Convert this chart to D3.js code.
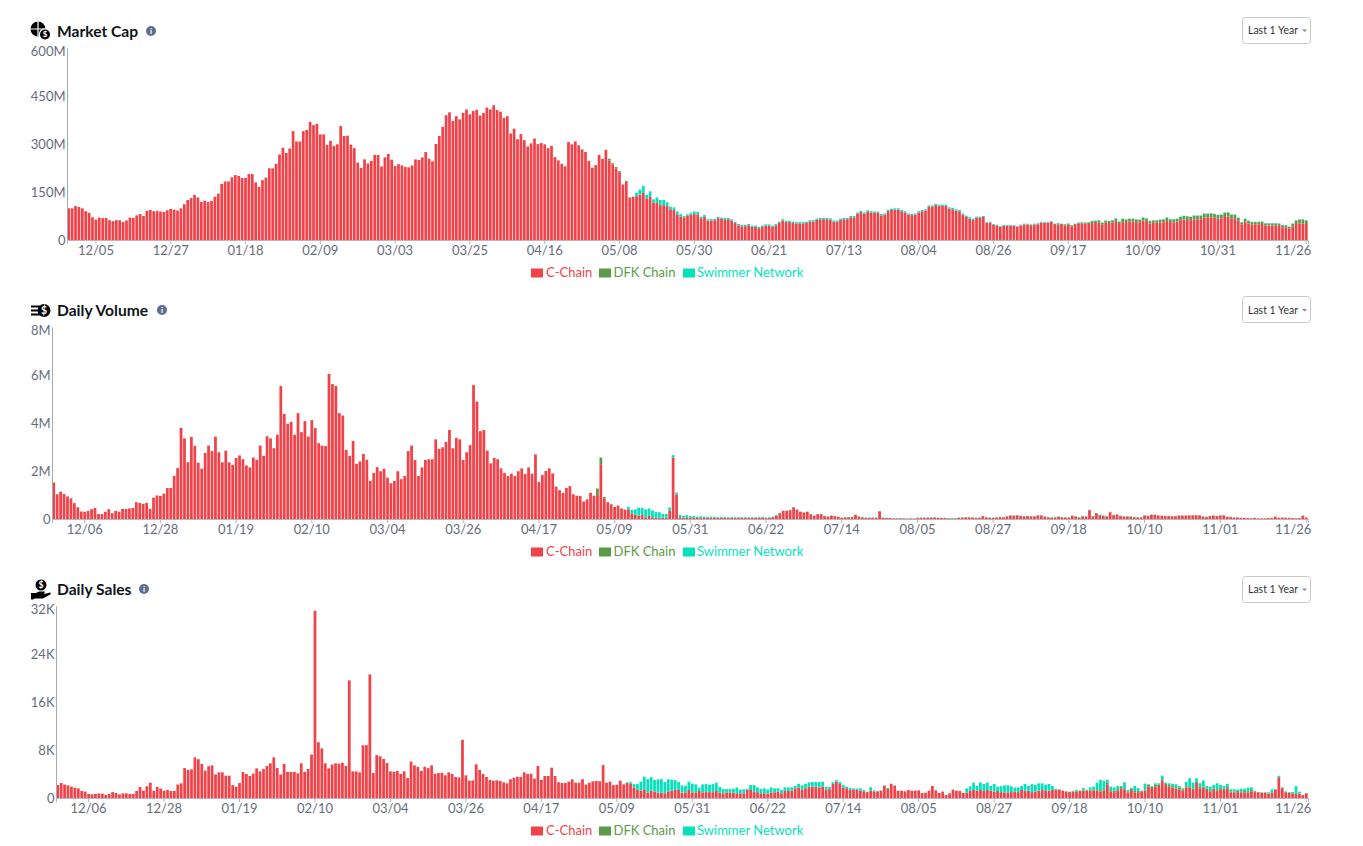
<!DOCTYPE html>
<html>
<head>
<meta charset="utf-8">
<title>NFT charts</title>
<script src="https://cdn.jsdelivr.net/npm/d3@7"></script>
<style>
  body { margin: 0; background: #fff; }
  svg { display: block; }
  text { font-family: Lato, sans-serif; }
</style>
</head>
<body>
<svg id="chart" width="1363" height="846"></svg>
<script>
const seriesNames = ["C-Chain", "DFK Chain", "Swimmer Network"];
const seriesColors = ["#ef4349", "#5b9a46", "#04e2bc"];

const capTicks = ["12/05","12/27","01/18","02/09","03/03","03/25","04/16","05/08","05/30","06/21","07/13","08/04","08/26","09/17","10/09","10/31","11/26"];
const laterTicks = ["12/06","12/28","01/19","02/10","03/04","03/26","04/17","05/09","05/31","06/22","07/14","08/05","08/27","09/18","10/10","11/01","11/26"];

// market cap, millions
const capC = [
99,99,106,103,99,90,85,71,64,70,
68,69,62,59,62,62,56,61,70,69,
77,81,75,91,94,90,91,89,88,93,
97,95,92,99,112,125,131,141,133,119,
123,119,122,135,145,175,183,183,196,203,
200,194,194,206,206,180,166,187,195,224,
224,238,267,288,272,286,340,308,308,340,
344,369,359,363,330,330,297,310,294,299,
356,325,326,298,287,242,225,252,239,247,
266,266,230,258,269,251,231,237,233,228,
227,233,252,250,258,275,254,246,300,325,
354,390,399,372,387,377,397,408,393,403,
407,389,397,414,408,421,406,401,382,387,
333,348,315,331,312,292,302,317,300,303,
299,287,294,259,249,238,230,306,299,308,
296,283,275,247,226,234,266,254,282,248,
236,224,212,173,182,133,135,137,142,147,
130,135,117,118,109,109,107,96,94,80,
73,71,75,79,81,80,68,73,61,61,
62,68,66,65,65,61,53,46,43,43,
46,41,41,37,41,45,45,41,46,53,
61,56,56,53,52,52,52,53,58,58,
63,65,65,65,64,57,57,63,65,65,
71,71,82,87,82,89,86,85,85,77,
79,91,94,95,95,90,86,79,78,79,
86,90,92,104,104,109,106,106,106,98,
96,92,90,79,72,67,63,70,70,72,
53,54,47,45,41,44,44,44,44,41,
45,48,48,46,48,49,54,53,54,56,
47,49,47,46,48,43,47,51,52,51,
50,53,53,54,49,54,53,54,59,50,
56,56,58,58,56,55,61,59,52,54,
54,55,55,60,56,55,57,62,64,63,
62,64,65,65,70,70,71,70,67,68,
72,73,68,68,60,48,57,52,49,49,
49,50,45,45,45,45,44,40,40,36,
42,50,52,52,50
];
const capDfk = [
0,0,0,0,0,0,0,0,0,0,0,0,0,0,0,0,0,0,0,0,
0,0,0,0,0,0,0,0,0,0,0,0,0,0,0,0,0,0,0,0,
0,0,0,0,0,0,0,0,0,0,0,0,0,0,0,0,0,0,0,0,
0,0,0,0,0,0,0,0,0,0,0,0,0,0,0,0,0,0,0,0,
0,0,0,0,0,0,0,0,0,0,0,0,0,0,0,0,0,0,0,0,
0,0,0,0,0,0,0,0,0,0,0,0,0,0,0,0,0,0,0,0,
0,0,0,0,0,0,0,0,0,0,0,0,0,0,0,0,0,0,0,0,
0,0,0,0,0,0,0,0,0,0,0,0,0,0,0,0,0,0,0,6,
4,4,3,1,3,0,0,0,0,0,0,0,0,0,0,0,0,0,0,0,
0,0,0,0,0,0,0,0,0,0,0,0,0,0,0,0,0,0,0,0,
0,0,0,0,0,0,0,0,0,0,0,0,0,0,0,0,0,0,0,0,
0,0,0,0,0,0,0,0,0,0,0,0,0,0,0,0,0,0,0,0,
0,0,0,0,0,0,0,0,0,0,0,0,0,0,0,0,0,0,0,0,
0,0,0,0,0,0,0,0,0,0,1,1,1,1,1,1,1,1,1,1,
1,1,1,1,1,1,1,1,1,1,3,3,3,3,3,3,3,3,3,3,
5,6,7,7,5,6,6,7,8,7,10,8,8,8,8,8,9,8,7,7,
7,8,9,10,9,9,9,10,11,11,10,12,11,11,12,12,12,11,11,11,
13,13,11,11,9,7,9,8,7,7,7,7,7,7,7,7,7,6,6,5,
9,11,12,12,11
];
const capSwimmer = [
0,0,0,0,0,0,0,0,0,0,0,0,0,0,0,0,0,0,0,0,
0,0,0,0,0,0,0,0,0,0,0,0,0,0,0,0,0,0,0,0,
0,0,0,0,0,0,0,0,0,0,0,0,0,0,0,0,0,0,0,0,
0,0,0,0,0,0,0,0,0,0,0,0,0,0,0,0,0,0,0,0,
0,0,0,0,0,0,0,0,0,0,0,0,0,0,0,0,0,0,0,0,
0,0,0,0,0,0,0,0,0,0,0,0,0,0,0,0,0,0,0,0,
0,0,0,0,0,0,0,0,0,0,0,0,0,0,0,0,0,0,0,0,
0,0,0,0,0,0,0,0,0,0,0,0,0,0,0,0,0,0,0,0,
0,0,0,0,0,0,1,11,16,22,11,17,10,15,16,16,11,8,8,9,
8,4,5,6,8,8,5,5,4,4,4,4,4,4,4,4,4,4,4,4,
4,4,4,4,4,4,4,4,4,4,4,4,4,4,4,4,4,4,4,4,
4,4,4,4,4,4,4,4,4,4,4,4,4,4,4,4,4,4,4,4,
4,4,4,4,4,4,4,4,4,4,4,4,4,4,4,4,4,4,4,4,
4,4,4,4,4,4,4,3,3,3,2,2,2,2,2,2,2,2,2,2,
2,2,2,2,2,2,2,2,2,2,1,1,1,1,1,1,1,1,1,1,
1,1,1,1,1,1,1,1,1,1,1,1,1,1,1,1,1,1,1,1,
1,1,1,1,1,1,1,1,1,1,1,1,1,1,1,1,1,1,1,1,
1,1,1,1,1,1,1,1,1,1,1,1,1,1,1,1,1,1,1,1,
1,1,1,1,1
];

// daily volume, millions
const volumeC = [
1.52,1.03,1.14,1.04,.94,.86,.66,.49,.31,.3,
.34,.41,.46,.21,.2,.3,.41,.24,.34,.3,
.42,.42,.44,.46,.7,.67,.63,.67,.42,.89,
.98,.96,1.06,1.29,1.29,1.8,2.12,3.8,3.36,2.37,
3.42,3.05,2.35,2.1,2.75,3.06,2.83,3.43,2.78,2.36,
2.85,2.36,2.25,2.54,2.65,2.49,2.23,2.15,2.56,2.47,
3.06,2.63,3.45,3.36,2.95,3.51,5.54,4.38,3.97,4.05,
3.51,4.41,3.62,4.08,3.43,4.12,3.79,3.16,3.06,3.04,
6.05,5.62,5.54,4.41,4.31,2.88,2.63,3.25,2.3,2.4,
2.71,2.47,1.59,1.92,2.16,1.99,2.09,1.72,1.49,1.59,
1.99,1.66,1.79,2.83,3.06,2.46,1.79,2.15,2.46,2.49,
2.49,3.32,2.92,2.99,3.21,3.71,2.95,3.38,3.32,2.46,
2.78,3.08,5.58,4.89,3.66,3.71,2.85,2.32,2.55,2.49,
2.11,1.92,1.79,1.89,1.79,1.99,2.11,1.87,2.15,1.89,
2.69,1.54,1.83,2.0,2.11,1.9,1.35,1.2,1.09,1.29,
1.37,1.03,.97,.96,.73,.82,1.09,.97,1.0,2.28,
.86,.7,.6,.5,.56,.44,.39,.4,.23,.17,
.14,.17,.07,.13,.07,.04,.06,.06,.06,.34,
2.56,1.02,.07,.06,.06,.06,.06,.05,.06,.05,
.05,.06,.05,.05,.04,.05,.04,.04,.04,.04,
.05,.04,.05,.05,.05,.06,.06,.04,.05,.08,
.14,.24,.34,.34,.37,.49,.39,.3,.27,.3,
.2,.14,.2,.2,.12,.1,.14,.12,.09,.05,
.07,.07,.08,.17,.1,.07,.05,.05,.05,.05,
.32,.05,.04,.04,.03,.03,.03,.03,.02,.03,
.02,.04,.05,.05,.06,.06,.06,.05,.04,.04,
.03,.03,.03,.05,.06,.07,.07,.06,.05,.05,
.12,.07,.05,.05,.06,.08,.07,.11,.14,.13,
.15,.12,.11,.12,.11,.11,.15,.14,.09,.07,
.05,.06,.09,.07,.05,.06,.13,.09,.05,.1,
.1,.37,.1,.24,.15,.12,.1,.27,.15,.18,
.12,.1,.1,.09,.07,.06,.07,.15,.12,.17,
.17,.14,.13,.12,.12,.11,.11,.14,.14,.14,
.15,.15,.15,.15,.1,.08,.12,.14,.12,.14,
.15,.09,.08,.06,.06,.05,.05,.04,.03,.05,
.03,.03,.03,.04,.05,.1,.05,.06,.05,.05,
.04,.03,.04,.14,.06
];
const volumeDfk = [
0,0,0,0,0,0,0,0,0,0,0,0,0,0,0,0,0,0,0,0,
0,0,0,0,0,0,0,0,0,0,0,0,0,0,0,0,0,0,0,0,
0,0,0,0,0,0,0,0,0,0,0,0,0,0,0,0,0,0,0,0,
0,0,0,0,0,0,0,0,0,0,0,0,0,0,0,0,0,0,0,0,
0,0,0,0,0,0,0,0,0,0,0,0,0,0,0,0,0,0,0,0,
0,0,0,0,0,0,0,0,0,0,0,0,0,0,0,0,0,0,0,0,
0,0,0,0,0,0,0,0,0,0,0,0,0,0,0,0,0,0,0,0,
0,0,0,0,0,0,0,0,0,0,0,0,0,0,0,0,0,0,.27,.28,
.06,0,.03,0,0,0,0,0,0,0,0,0,0,0,0,0,0,0,0,0,
0,0,0,0,0,0,0,0,0,0,0,0,0,0,0,0,0,0,0,0,
0,0,0,0,0,0,0,0,0,0,0,0,0,0,0,0,0,0,0,0,
0,0,0,0,0,0,0,0,0,0,0,0,0,0,0,0,0,0,0,0,
0,0,0,0,0,0,0,0,0,0,0,0,0,0,0,0,0,0,0,0,
0,0,0,0,0,0,0,0,0,0,0,0,0,0,0,0,0,0,.01,.01,
.01,.01,.01,0,0,0,0,.01,.01,.01,.01,.01,.01,.01,.02,0,.01,.02,.02,.02,
0,0,.02,0,.02,.02,.02,.02,.02,.01,.01,.01,.01,.01,.01,.01,0,0,.01,.01,
.01,.01,.01,.01,.01,.01,.01,.01,.01,.01,.01,.01,.01,.01,.01,.01,.01,.01,.01,.01,
.01,.01,.01,.01,.01,0,0,0,0,0,0,0,0,0,0,0,0,0,0,0,
0,0,0,0,0
];
const volumeSwimmer = [
0,0,0,0,0,0,0,0,0,0,0,0,0,0,0,0,0,0,0,0,
0,0,0,0,0,0,0,0,0,0,0,0,0,0,0,0,0,0,0,0,
0,0,0,0,0,0,0,0,0,0,0,0,0,0,0,0,0,0,0,0,
0,0,0,0,0,0,0,0,0,0,0,0,0,0,0,0,0,0,0,0,
0,0,0,0,0,0,0,0,0,0,0,0,0,0,0,0,0,0,0,0,
0,0,0,0,0,0,0,0,0,0,0,0,0,0,0,0,0,0,0,0,
0,0,0,0,0,0,0,0,0,0,0,0,0,0,0,0,0,0,0,0,
0,0,0,0,0,0,0,0,0,0,0,0,0,0,0,0,0,0,0,0,
0,0,0,0,0,0,0,.1,.15,.23,.33,.3,.33,.31,.29,.25,.22,.16,.15,.14,
.1,.08,.1,.07,.1,.06,.07,.05,.05,.05,.04,.04,.04,.03,.04,.03,.03,.03,.03,.03,
.03,.03,.02,.02,.02,.02,.02,.02,.02,.02,.02,.02,.01,.01,.01,.01,.01,.01,.01,.01,
.01,.01,.01,.01,.01,.01,.01,.01,.01,.01,.01,.01,.01,.01,.01,.01,.01,.01,.01,.01,
.01,.01,.01,.01,.01,.01,.01,.01,.01,.01,.01,.01,.01,.01,.01,.01,.01,.01,.01,.01,
.01,.01,.01,.01,.01,.01,.01,.01,.01,.01,.01,.01,.01,.01,.01,.01,.01,.01,.01,.01,
.01,.01,.01,.01,.01,.01,.01,.01,.01,.01,.01,.01,.01,.01,.01,.01,.01,.01,.01,.01,
.01,.01,.01,.01,.01,.01,.01,.01,.01,.01,.01,.01,.01,.01,.01,.01,.01,.01,.01,.01,
0,0,0,0,0,0,0,0,0,0,0,0,0,0,0,0,0,0,0,0,
0,0,0,0,0,0,0,0,0,0,0,0,0,0,0,0,0,0,0,0,
0,0,0,0,0
];

// daily sales, thousands
const salesC = [
2.15,2.5,2.25,2.1,1.89,1.72,1.62,1.17,1.06,.67,
.61,.67,.77,.72,.49,.67,.98,.83,.61,.77,
.77,.67,.67,1.17,1.83,1.22,1.96,2.55,1.22,1.83,
1.57,1.22,1.33,1.17,1.17,2.25,2.45,4.99,4.67,4.78,
6.76,6.46,5.68,4.55,5.29,5.44,3.92,4.28,4.28,3.72,
3.72,2.15,1.89,2.5,4.34,4.01,3.67,4.06,4.94,4.44,
4.84,5.34,5.78,6.76,4.99,3.92,5.68,4.34,4.34,4.34,
4.11,5.78,4.34,4.84,7.24,31.2,9.3,8.27,5.78,4.94,
5.58,5.78,5.73,5.87,5.34,19.6,4.44,4.44,4.28,8.81,
8.81,20.6,4.16,7.15,6.95,6.5,5.83,4.44,4.39,4.5,
4.01,4.44,3.33,6.07,5.44,5.19,4.5,5.19,4.99,5.44,
4.05,4.16,4.21,3.78,4.28,4.01,3.5,3.43,9.69,3.78,
2.89,2.94,5.61,4.7,4.01,3.5,3.03,2.89,2.94,2.84,
2.61,2.45,3.13,3.39,3.55,3.5,4.28,4.01,4.05,3.23,
5.34,3.03,3.67,3.67,5.05,3.67,2.64,2.5,2.5,2.72,
3.11,2.55,2.55,3.13,2.25,2.55,2.78,2.84,2.78,5.43,
2.55,2.72,2.15,2.22,2.89,2.28,2.5,2.35,1.76,1.33,
1.22,1.45,.88,1.22,1.06,.88,.88,.78,1.11,1.17,
1.33,1.33,.88,.94,1.33,.94,.94,1.17,.94,.98,
.98,.98,1.17,.88,.78,.88,.94,.88,.78,.78,
.78,1.33,1.33,1.11,.98,.78,.78,.72,.94,.94,
1.06,.78,1.22,1.17,1.22,1.62,1.76,1.44,1.62,1.89,
1.89,1.89,1.76,1.89,1.44,1.47,2.33,2.72,2.33,1.72,
1.62,1.33,1.44,1.33,1.22,1.11,.98,1.22,1.11,1.11,
1.22,2.06,1.5,2.33,2.0,1.22,1.22,1.11,1.33,1.22,
1.22,1.27,.83,.88,1.22,2.0,1.27,.83,1.06,.49,
.78,1.39,1.22,1.17,.83,.88,1.22,1.33,1.22,1.33,
1.17,1.33,1.22,1.06,1.17,.98,.94,.94,.98,1.06,
.98,1.33,1.22,1.22,.98,1.06,1.22,1.33,1.17,1.22,
1.33,1.33,1.39,1.17,1.06,.98,1.06,1.06,1.22,1.17,
1.17,1.22,1.22,1.22,1.06,1.22,2.29,1.06,.98,1.22,
1.62,1.44,.94,1.33,.94,.98,1.06,1.22,1.96,1.66,
1.89,2.0,2.89,2.15,1.89,1.76,1.57,1.44,1.22,1.76,
1.72,1.33,2.5,1.62,1.72,1.33,1.11,1.33,1.22,1.44,
1.33,1.62,.88,.88,.98,.88,.94,.88,1.11,.98,
.88,.88,.88,.67,.83,1.37,3.43,1.62,.94,.83,
.72,.72,.72,.49,.72
];
const salesDfk = [
0,0,0,0,0,0,0,0,0,0,0,0,0,0,0,0,0,0,0,0,
0,0,0,0,0,0,0,0,0,0,0,0,0,0,0,0,0,0,0,0,
0,0,0,0,0,0,0,0,0,0,0,0,0,0,0,0,0,0,0,0,
0,0,0,0,0,0,0,0,0,0,0,0,0,0,0,0,0,0,0,0,
0,0,0,0,0,0,0,0,0,0,0,0,0,0,0,0,0,0,0,0,
0,0,0,0,0,0,0,0,0,0,0,0,0,0,0,0,0,0,0,0,
0,0,0,0,0,0,0,0,0,0,0,0,0,0,0,0,0,0,0,0,
0,0,0,0,0,0,0,0,0,0,0,0,0,0,0,0,0,0,.05,.12,
0,0,0,0,0,0,0,0,0,0,0,0,0,0,0,0,0,0,0,0,
0,0,0,0,0,0,0,0,0,0,0,0,0,0,0,0,0,0,0,0,
0,0,0,0,0,0,0,0,0,0,0,0,0,0,0,0,0,0,0,0,
0,0,0,0,0,0,0,0,0,0,0,0,0,0,0,0,0,0,0,0,
0,0,0,0,0,0,0,0,0,0,0,0,0,0,0,0,0,0,0,0,
0,0,0,0,0,0,0,0,0,0,0,0,0,0,0,0,0,0,0,0,
0,0,0,0,0,0,0,0,0,0,0,.1,.06,.06,.06,.06,.06,.08,0,.1,
.1,.15,.18,.25,.25,.25,.25,.25,.25,.25,.25,.2,.15,.24,.23,.23,.12,.2,.24,.24,
.27,.25,.25,.2,.27,.22,.24,.27,.25,.21,.25,.25,.2,.25,.2,.23,.25,.25,.25,.24,
.23,.24,.22,.22,.2,.23,.22,.25,.23,.13,.11,.06,.06,.08,.12,.02,.08,.12,.07,.07,
.08,.1,.04,0,.11
];
const salesSwimmer = [
0,0,0,0,0,0,0,0,0,0,0,0,0,0,0,0,0,0,0,0,
0,0,0,0,0,0,0,0,0,0,0,0,0,0,0,0,0,0,0,0,
0,0,0,0,0,0,0,0,0,0,0,0,0,0,0,0,0,0,0,0,
0,0,0,0,0,0,0,0,0,0,0,0,0,0,0,0,0,0,0,0,
0,0,0,0,0,0,0,0,0,0,0,0,0,0,0,0,0,0,0,0,
0,0,0,0,0,0,0,0,0,0,0,0,0,0,0,0,0,0,0,0,
0,0,0,0,0,0,0,0,0,0,0,0,0,0,0,0,0,0,0,0,
0,0,0,0,0,0,0,0,0,0,0,0,0,0,0,0,0,0,0,0,
0,0,0,0,0,0,.1,.29,.56,.98,1.5,2.1,2.25,2.25,1.96,2.22,2.28,1.89,2.0,1.89,
1.66,1.33,1.22,1.12,1.39,1.47,1.33,.56,1.33,1.33,1.22,1.33,1.39,.98,.72,.61,.56,.67,.98,.61,
.67,.17,.83,1.06,.78,.72,.83,.72,.83,.67,.56,.56,.56,.61,.56,.39,.61,.67,.72,.72,
.78,.78,.88,.83,.44,.39,.27,.27,.33,.44,.27,.33,.17,.23,.39,.23,.06,.56,.17,.06,
.06,.06,.17,.06,.11,0,0,0,0,0,0,0,0,0,0,0,0,0,0,0,
0,0,0,0,0,.72,.72,1.22,.83,1.27,1.17,1.22,.78,1.27,.72,1.0,1.17,1.17,.98,.67,
.78,.67,1.11,.78,1.33,1.11,1.22,1.11,1.06,1.11,.67,.1,0,0,0,0,.1,.2,0,.39,
.1,.39,.49,1.08,1.71,1.42,.49,.59,.54,.54,.15,.98,.24,.1,.83,.44,.05,.98,.1,.1,
.29,.2,.59,.2,.29,.39,.49,.29,.15,.73,1.32,.98,.59,.59,.98,.44,.54,.59,.98,.49,
.44,.49,.34,.34,.24,.44,.34,.59,.44,.1,0,0,0,.2,.49,.1,.2,.05,.1,.1,
.2,1.17,.29,0,0
];

const days = d3.utcDay.range(new Date(Date.UTC(2021, 10, 27)), new Date(Date.UTC(2022, 10, 27))).map(d3.utcFormat("%m/%d"));
const svg = d3.select("#chart");
const right = 1308;
const plotHeight = 192;

const drawPanel = (title, offset, btnOffset, left, yMax, yStep, suffix, tickLabels, values, infoX) => {
  const bottom = offset + 240;
  const rows = days.map((day, i) => ({ day, c: values[0][i], dfk: values[1][i], swim: values[2][i] }));
  const stacked = d3.stack().keys(["c", "dfk", "swim"])(rows);

  const xScale = d3.scaleBand().domain(days).range([left, right]).paddingInner(0.2).paddingOuter(0.1);
  const yScale = d3.scaleLinear().domain([0, yMax]).range([bottom, bottom - plotHeight]);

  const layers = svg.append("g").selectAll("g").data(stacked).enter().append("g")
    .attr("fill", (d, i) => seriesColors[i]);
  layers.selectAll("rect").data((d) => d).enter().append("rect")
    .attr("x", (d) => xScale(d.data.day))
    .attr("y", (d) => yScale(d[1]))
    .attr("width", xScale.bandwidth())
    .attr("height", (d) => yScale(d[0]) - yScale(d[1]));

  const xAxis = svg.append("g").attr("transform", `translate(0,${bottom})`)
    .call(d3.axisBottom(xScale).tickValues(tickLabels).tickSize(4).tickPadding(2));
  xAxis.select(".domain").attr("stroke", "#b4b7bd");
  xAxis.selectAll(".tick line").attr("stroke", "#b4b7bd");
  xAxis.selectAll("text").attr("fill", "#666d7c").attr("font-size", 13).attr("font-family", "Lato");
  // last label sits inside the edge of the page column
  xAxis.selectAll(".tick:last-of-type text").attr("text-anchor", "end").attr("x", 5);

  const yAxis = svg.append("g").attr("transform", `translate(${left},0)`)
    .call(d3.axisLeft(yScale).tickValues(d3.range(0, yMax + yStep, yStep))
      .tickFormat((d) => (d === 0 ? "0" : d + suffix)).tickSize(0).tickPadding(1.5));
  yAxis.select(".domain").attr("stroke", "#a6a9b0");
  yAxis.selectAll("text").attr("fill", "#666d7c").attr("font-size", 13).attr("font-family", "Lato");
  yAxis.selectAll(".tick text").filter((d) => d === yMax).attr("y", 3.5);

  // title
  svg.append("text").attr("x", 57).attr("y", offset + 37).attr("font-size", 15.6).attr("font-weight", 700)
    .attr("fill", "#10131a").text(title);
  svg.append("circle").attr("cx", infoX).attr("cy", offset + 31).attr("r", 5).attr("fill", "#5f6e8e");
  svg.append("text").attr("x", infoX).attr("y", offset + 34).attr("text-anchor", "middle")
    .attr("font-size", 8).attr("font-weight", 700).attr("fill", "#fff").text("i");

  // range button
  svg.append("rect").attr("x", 1242.5).attr("y", Math.floor(btnOffset) + 17.5).attr("width", 68).attr("height", 26).attr("rx", 3)
    .attr("fill", "#fff").attr("stroke", "#c8c8c8");
  svg.append("text").attr("x", 1248).attr("y", btnOffset + 34).attr("font-size", 10.5).attr("fill", "#333").text("Last 1 Year");
  svg.append("path").attr("d", `M1302,${btnOffset + 29.5}h5l-2.5,2.5z`).attr("fill", "#888");

  // legend
  const legendX = [[531, 546], [599, 613.5], [683, 697]];
  seriesNames.forEach((name, i) => {
    svg.append("rect").attr("x", legendX[i][0]).attr("y", offset + 268.5).attr("width", 12).attr("height", 9).attr("fill", seriesColors[i]);
    svg.append("text").attr("x", legendX[i][1]).attr("y", offset + 277).attr("font-size", 13).attr("fill", seriesColors[i]).text(name);
  });
};

const coin = (x, y, r) => {
  svg.append("circle").attr("cx", x).attr("cy", y).attr("r", r).attr("fill", "#000");
  svg.append("text").attr("x", x).attr("y", y + r * 0.55).attr("text-anchor", "middle")
    .attr("font-size", r * 1.6).attr("font-weight", 700).attr("fill", "#fff").text("$");
};

drawPanel("Market Cap", 0, 0, 67, 600, 150, "M", capTicks, [capC, capDfk, capSwimmer], 151);
drawPanel("Daily Volume", 279, 279.5, 52, 8, 2, "M", laterTicks, [volumeC, volumeDfk, volumeSwimmer], 162);
drawPanel("Daily Sales", 558, 559, 56, 32, 8, "K", laterTicks, [salesC, salesDfk, salesSwimmer], 144);

// title icons
svg.append("circle").attr("cx", 38).attr("cy", 29).attr("r", 7.5).attr("fill", "#000");
svg.append("path").attr("d", "M38,20V38M29,29H47").attr("stroke", "#fff").attr("stroke-width", 1.2);
svg.append("circle").attr("cx", 45).attr("cy", 34.5).attr("r", 6.2).attr("fill", "#fff");
coin(45, 34.5, 5);

svg.append("path").attr("d", "M31,305.5h9v2h-9zM31,309.5h7v2h-7zM31,313.5h9v2h-9z").attr("fill", "#000");
coin(44, 310.5, 6.5);

coin(41, 585, 5.5);
svg.append("path").attr("d", "M31,593h5l3,-1.5h6l-1,2.5l6,-1.5l1,1.5l-8,4.5h-8l-2,1h-2z").attr("fill", "#000");
</script>
</body>
</html>
